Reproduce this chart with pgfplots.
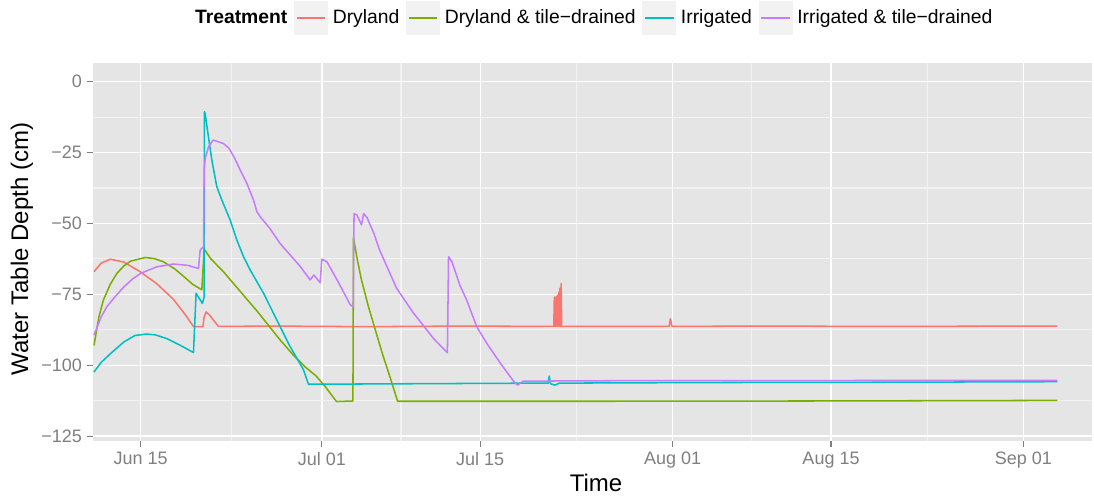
\documentclass[border=0pt]{standalone}
\usepackage{fontspec}
\setmainfont{Liberation Sans}
\usepackage{pgfplots}
\pgfplotsset{compat=1.18}
\definecolor{cR}{HTML}{F8766D}
\definecolor{cG}{HTML}{7CAE00}
\definecolor{cC}{HTML}{00BFC4}
\definecolor{cP}{HTML}{C77CFF}
\definecolor{panelbg}{HTML}{E5E5E5}
\definecolor{minorgrid}{HTML}{F2F2F2}
\definecolor{ticktext}{HTML}{7F7F7F}
\definecolor{legkey}{HTML}{F2F2F2}
\begin{document}
\begin{tikzpicture}
\path[use as bounding box] (0pt,0pt) rectangle (820.5pt,-372.75pt);
\begin{axis}[
  at={(70pt,-330.5pt)}, anchor=south west,
  scale only axis, width=749.3pt, height=283.3pt,
  xmin=-4.19, xmax=84.1, ymin=-126.6, ymax=6.6,
  axis background/.style={fill=panelbg},
  axis line style={draw=none},
  tick pos=left, tick align=outside,
  major tick length=5pt, minor tick length=0pt,
  major tick style={ticktext, line width=0.9pt},
  xtick={0,16,30,47,61,78},
  xticklabels={Jun 15,Jul 01,Jul 15,Aug 01,Aug 15,Sep 01},
  ytick={-125,-100,-75,-50,-25,0},
  yticklabels={−125,−100,−75,−50,−25,0},
  minor xtick={8,23,38.5,54,69.5},
  minor ytick={-112.5,-87.5,-62.5,-37.5,-12.5},
  grid=both,
  major grid style={white, line width=1.05pt},
  minor grid style={minorgrid, line width=0.8pt},
  tick label style={font=\fontsize{13.5}{16}\selectfont, text=ticktext},
  every axis plot/.append style={line width=1.15pt, line join=round},
  legend columns=-1,
  legend style={at={(axis description cs:0.0971,1.119)}, anchor=west, draw=none, fill=none,
    inner sep=0pt, outer sep=0pt, font=\fontsize{14.5}{16}\selectfont,
    nodes={inner xsep=3.5pt},
    /tikz/every odd column/.append style={column sep=0pt},
    /tikz/every even column/.append style={column sep=1.5pt}},
  legend image code/.code={%
    \fill[legkey] (0pt,-12.4pt) rectangle (24.4pt,12.4pt);
    \draw[#1, line width=1.4pt] (1.5pt,0pt) -- (22.9pt,0pt);},
]
\addlegendimage{empty legend}
\addlegendentry{\textbf{Treatment}\hspace{5.5pt}}
% Dryland
\addplot[cR] coordinates {
(-4.13,-67) (-3.5,-64) (-2.7,-62.6) (-1.5,-63.6) (-0.06,-67) (1.4,-71.2) (2.9,-76.8)
(4.07,-82.9) (4.66,-86.4) (5.5,-86.4) (5.6,-83) (5.78,-81.2) (6.1,-82.4) (6.5,-84.5) (6.87,-86.3)
(12,-86.2) (20,-86.4) (28,-86.2) (36.5,-86.3)
(36.55,-76) (36.6,-86.3) (36.65,-76) (36.7,-86.3) (36.75,-75.8) (36.8,-86.3) (36.85,-75.3)
(36.9,-86.3) (36.95,-74.2) (37.0,-86.3) (37.05,-72.8) (37.1,-86.3) (37.15,-71.2) (37.2,-86.3)
(42,-86.3) (46.7,-86.3) (46.8,-83.6) (46.95,-86.3) (55,-86.2) (65,-86.3) (81,-86.2)
};
\addlegendentry{Dryland}
% Dryland & tile-drained
\addplot[cG] coordinates {
(-4.13,-93) (-3.7,-83) (-3.3,-77) (-2.7,-71.5) (-2.1,-67.6) (-1.5,-65) (-0.9,-63.3) (0.4,-62)
(1.2,-62.4) (2.0,-63.5) (3.0,-66) (3.8,-68.7) (4.6,-71.5) (5.4,-73.4) (5.6,-59) (6.2,-62.5)
(7.3,-67) (8.8,-74) (10.3,-81) (11.5,-87) (12.3,-91) (13.5,-96.5) (14.5,-100.5) (15.5,-103.8)
(16.3,-107.5) (17.3,-112.8) (18.75,-112.6) (18.8,-55) (19.1,-62) (19.5,-69.8) (20.1,-79)
(20.8,-88.5) (21.4,-96.5) (22.0,-103.8) (22.7,-112.7) (40,-112.7) (60,-112.6) (81,-112.4)
};
\addlegendentry{Dryland \& tile−drained}
% Irrigated
\addplot[cC] coordinates {
(-4.13,-102.4) (-3.5,-99) (-2.7,-96) (-1.5,-91.8) (-0.5,-89.5) (0.5,-89) (1.3,-89.3) (2.3,-90.6)
(3.5,-93) (4.66,-95.5) (4.89,-74.6) (5.1,-76) (5.45,-78.2) (5.6,-76) (5.63,-10.6) (5.69,-11.2)
(5.98,-19.4) (6.28,-27.6) (6.72,-37) (7.16,-41.7) (7.9,-48.8) (8.49,-55.8) (9.08,-61.7)
(9.67,-66.4) (10.85,-74.6) (12.02,-84.0) (13.2,-93.4) (14.38,-101.6) (14.82,-106.7)
(20,-106.6) (30,-106.4) (36.0,-106.3) (36.1,-103.8) (36.2,-106.5) (36.6,-107) (37,-106.3)
(50,-106.1) (65,-106) (81,-105.8)
};
\addlegendentry{Irrigated}
% Irrigated & tile-drained
\addplot[cP] coordinates {
(-4.13,-89.4) (-3.5,-83) (-3.0,-79.4) (-2.2,-75.5) (-1.5,-72.4) (-0.7,-69.5) (0,-67.6) (1.4,-65.3)
(2.9,-64.3) (4.2,-64.8) (5.1,-65.9) (5.25,-59.4) (5.55,-58.2) (5.6,-31) (5.7,-27) (6.0,-22.9)
(6.4,-20.6) (7.3,-21.8) (7.8,-23.5) (8.3,-27) (8.78,-31.1) (9.37,-35.8) (9.96,-41.7) (10.26,-45.8)
(10.55,-47.6) (11.4,-51.7) (12.3,-57) (13.2,-61.1) (14.1,-65.2) (14.97,-69.9) (15.3,-68.2)
(15.86,-70.9) (16.0,-62.6) (16.45,-63.5) (17.5,-71) (18.5,-78.6) (18.78,-79.4) (18.85,-46.5)
(19.1,-47) (19.5,-50.5) (19.7,-46.5) (20.0,-48) (20.6,-53.5) (21.1,-59.3) (22.6,-72.8)
(24.1,-81.6) (25.9,-90.7) (27.1,-95.6) (27.2,-61.7) (27.5,-63.5) (28.2,-71.8) (28.8,-77)
(29.7,-86.5) (30.6,-92.4) (31.8,-99.4) (33.0,-105.9) (33.3,-107) (33.8,-105.6) (45,-105.4)
(60,-105.4) (81,-105.3)
};
\addlegendentry{Irrigated \& tile−drained}
\end{axis}
\begin{scope}[x=0.75pt,y=-0.75pt]
\node[font=\fontsize{18}{20}\selectfont, anchor=base] at (596,491) {Time};
\node[font=\fontsize{18}{20}\selectfont, anchor=base, rotate=90] at (28,249) {Water Table Depth (cm)};
\end{scope}
\end{tikzpicture}
\end{document}
